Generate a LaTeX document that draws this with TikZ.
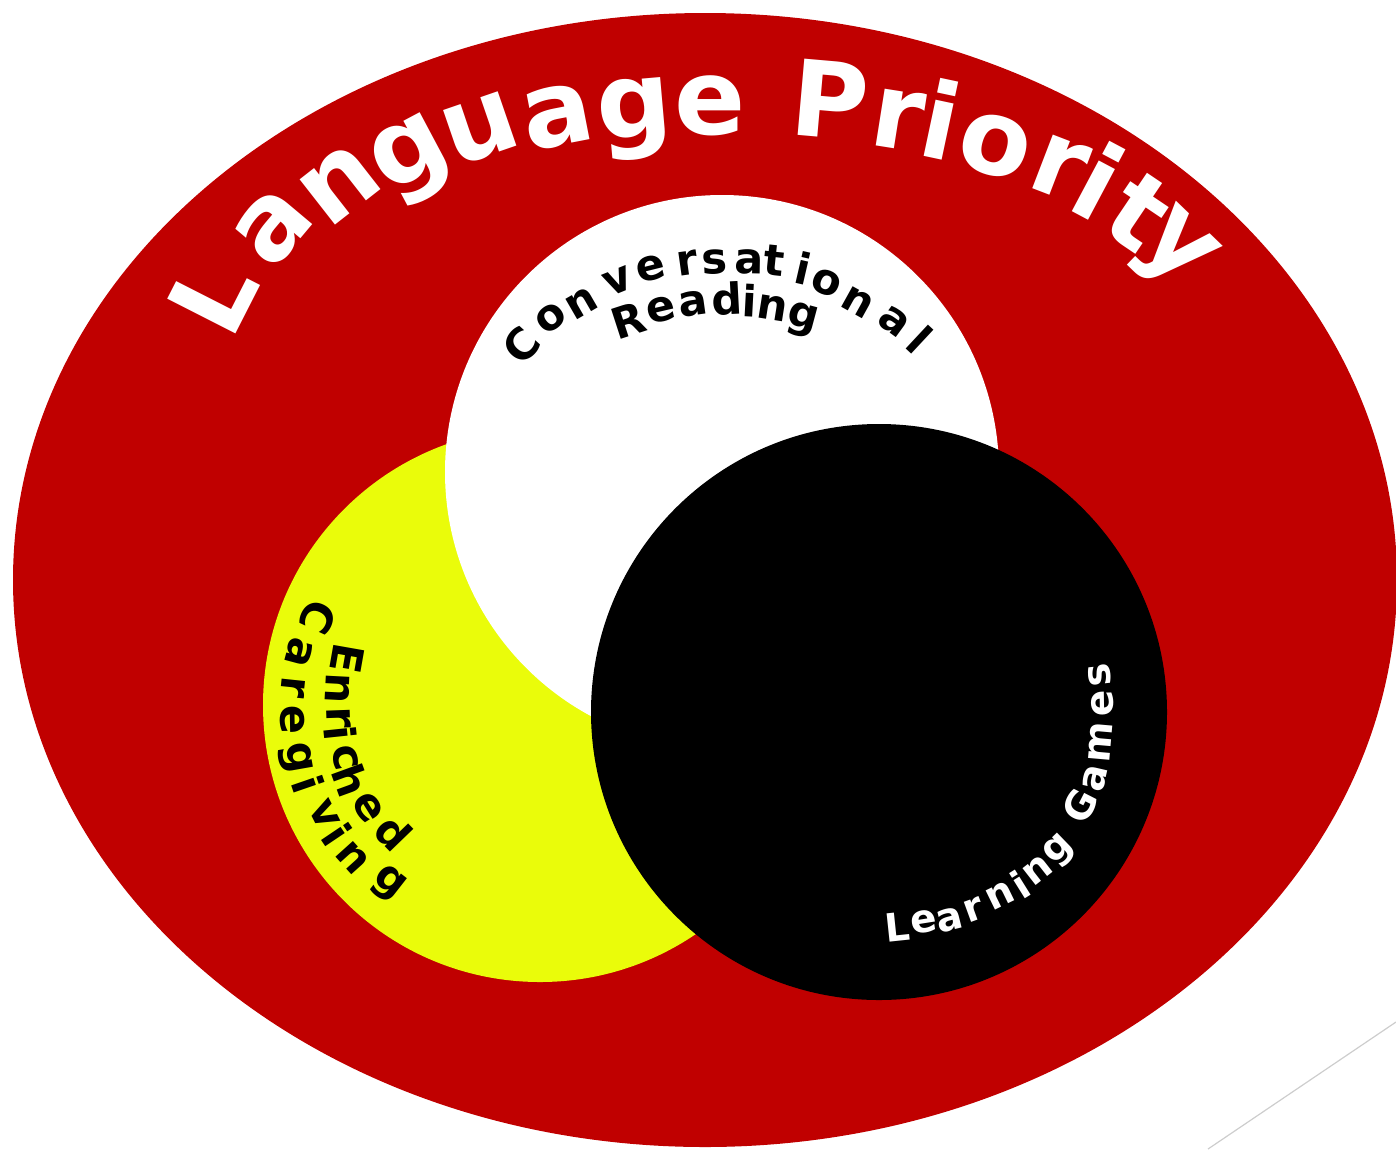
\documentclass[tikz,border=0pt]{standalone}
\usepackage{fontspec}
\setmainfont{DejaVu Sans}
\definecolor{lpred}{RGB}{192,0,0}
\definecolor{lpyellow}{RGB}{234,252,10}
\definecolor{lpgray}{RGB}{205,205,205}
\begin{document}
\begin{tikzpicture}[x=1pt,y=-1pt,
  titlech/.style={text=white, font=\bfseries\fontsize{105}{110}\selectfont, inner sep=0pt, anchor=center},
  darkch/.style={text=black, font=\bfseries\fontsize{43}{46}\selectfont, inner sep=0pt, anchor=center},
  lightch/.style={text=white, font=\bfseries\fontsize{39}{42}\selectfont, inner sep=0pt, anchor=center}]
\useasboundingbox (0,0) rectangle (1396,1149);
% outer ellipse and circles
\fill[lpred] (705,580) ellipse [x radius=692, y radius=567];
\draw[lpgray, line width=1.2pt] (1208,1149) -- (1396,1022);
\fill[lpyellow] (540,705) circle [radius=277];
\fill[white] (722,472) circle [radius=277];
\fill[black] (879,712) circle [radius=288];
% title
\foreach \ch/\px/\py/\rr [count=\i] in {
  L/213/295/63, a/273/227/50, n/340/184/38, g/413/161/28, u/481/129/19,
  a/558/117/11, g/635/119/5, e/710/106/0, P/830/100/-5, r/898/120/-9,
  i/941/119/-12, o/995/146/-16, r/1059/167/-21, i/1099/181/-28,
  t/1139/212/-34, y/1172/253/-44}
  {\node[titlech, rotate=\rr] (title\i) at (\px,\py) {\ch};}
% Conversational
\foreach \ch/\px/\py/\rr [count=\i] in {
  C/521/345/48, o/551/318/38, n/582/303/30, v/618/281/22, e/651/269/14,
  r/687/263/8, s/715/262/3, a/749/262/-1, t/774/261/-6, i/803/268/-13,
  o/826/283/-21, n/858/302/-29, a/894/322/-36, l/920/340/-43}
  {\node[darkch, rotate=\rr] (conv\i) at (\px,\py) {\ch};}
% Reading
\foreach \ch/\px/\py/\rr [count=\i] in {
  R/628/320/18, e/661/310/13, a/693/304/8, d/727/299/3, i/750/301/-3,
  n/772/308/-9, g/802/320/-15}
  {\node[darkch, rotate=\rr] (read\i) at (\px,\py) {\ch};}
% Enriched
\foreach \ch/\px/\py/\rr [count=\i] in {
  E/347/659/-100, n/338/688/-93, r/339/718/-88, i/341/733/-84,
  c/345/758/-79, h/351/780/-70, e/368/808/-58, d/394/832/-46}
  {\node[darkch, rotate=\rr] (enr\i) at (\px,\py) {\ch};}
% Caregiving
\foreach \ch/\px/\py/\rr [count=\i] in {
  C/318/617/-115, a/299/653/-105, r/293/687/-96, e/292/720/-89,
  g/295/758/-80, i/308/784/-71, v/324/815/-63, i/337/834/-56,
  n/353/858/-48, g/388/884/-38}
  {\node[darkch, rotate=\rr] (care\i) at (\px,\py) {\ch};}
% Learning Games
\foreach \ch/\px/\py/\rr [count=\i] in {
  L/897/927/6, e/924/922/9, a/950/920/14, r/974/910/20, n/1000/896/26,
  i/1020/884/32, n/1038/870/38, g/1060/851/44,
  G/1080/806/63, a/1095/778/77, m/1100/742/85, e/1103/703/91, s/1100/675/96}
  {\node[lightch, rotate=\rr] (learn\i) at (\px,\py) {\ch};}
\end{tikzpicture}
\end{document}
